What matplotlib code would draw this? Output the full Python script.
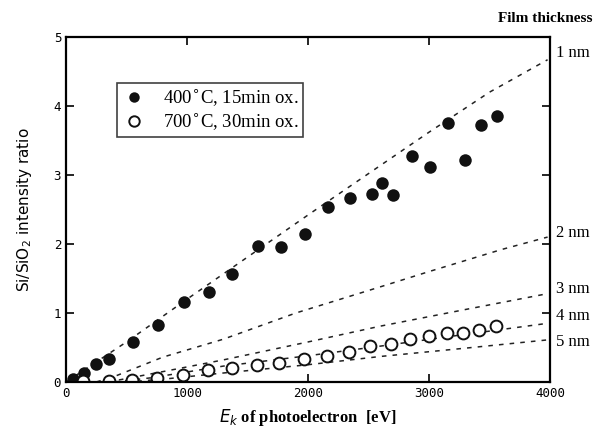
import matplotlib
matplotlib.use("Agg")
import matplotlib.pyplot as plt
import matplotlib.transforms as mtransforms

# measured ratios, 400 C / 15 min oxide
E_400 = [55, 149, 248, 355, 551, 758, 978, 1182, 1375, 1584, 1774, 1975,
         2163, 2347, 2526, 2609, 2700, 2857, 3008, 3160, 3298, 3430, 3562]
R_400 = [0.05, 0.13, 0.26, 0.33, 0.575, 0.82, 1.155, 1.30, 1.56, 1.975, 1.95,
         2.145, 2.54, 2.66, 2.72, 2.88, 2.71, 3.27, 3.12, 3.76, 3.21, 3.73, 3.855]

# measured ratios, 700 C / 30 min oxide
E_700 = [143, 355, 543, 750, 970, 1171, 1369, 1576, 1763, 1967, 2154, 2339,
         2512, 2686, 2843, 3003, 3146, 3284, 3416, 3554]
R_700 = [0.015, 0.015, 0.03, 0.06, 0.10, 0.17, 0.20, 0.24, 0.27, 0.34, 0.38,
         0.44, 0.52, 0.55, 0.62, 0.66, 0.705, 0.715, 0.76, 0.815]

# calculated curves for each film thickness
thick_labels = ["1 nm", "2 nm", "3 nm", "4 nm", "5 nm"]
thick_label_y = [4.77, 2.16, 1.35, 0.96, 0.58]
curve_E = [
    [0, 500, 1000, 1500, 2000, 2500, 3000, 3500, 3980],
    [250, 400, 800, 1300, 1900, 2600, 3000, 3600, 3980],
    [350, 500, 800, 1300, 2000, 2600, 3300, 3980],
    [400, 700, 1300, 2000, 2600, 3300, 3980],
    [500, 800, 1300, 2000, 2600, 3300, 3980],
]
curve_R = [
    [0, 0.58, 1.2, 1.81, 2.42, 3.02, 3.62, 4.2, 4.67],
    [0, 0.08, 0.36, 0.62, 1.0, 1.38, 1.6, 1.92, 2.1],
    [0, 0.05, 0.15, 0.32, 0.58, 0.81, 1.05, 1.28],
    [0, 0.06, 0.23, 0.38, 0.52, 0.69, 0.85],
    [0, 0.04, 0.13, 0.25, 0.37, 0.49, 0.61],
]

fig = plt.figure(figsize=(6.08, 4.36), dpi=100)
ax = fig.add_axes([0.1086, 0.1239, 0.796, 0.7913])

for xs, ys in zip(curve_E, curve_R):
    ax.plot(xs, ys, color="#222222", lw=1.1, linestyle=(0, (3, 4)))

ax.plot(E_400, R_400, "o", color="#111111", markersize=9, markeredgewidth=0,
        label="400$^{\\circ}$C, 15min ox.")
ax.plot(E_700, R_700, "o", markerfacecolor="white", markeredgecolor="#111111",
        markersize=8.5, markeredgewidth=1.4, label="700$^{\\circ}$C, 30min ox.")

ax.set_xlim(0, 4000)
ax.set_ylim(0, 5)
ax.set_xticks([0, 1000, 2000, 3000, 4000])
ax.set_yticks([0, 1, 2, 3, 4, 5])
ax.tick_params(direction="in", length=6, width=1.2, top=True, right=True,
               labelsize=9)
for lab in ax.get_xticklabels() + ax.get_yticklabels():
    lab.set_family("DejaVu Sans Mono")
for s in ax.spines.values():
    s.set_linewidth(1.6)

ax.set_ylabel("Si/SiO$_2$ intensity ratio", family="DejaVu Sans", fontsize=11,
              labelpad=14)
ax.set_xlabel("$E_k$ of photoelectron  [eV]", family="Liberation Serif",
              fontweight="bold", fontsize=12, labelpad=5)

leg = ax.legend(loc="upper left", bbox_to_anchor=(0.105, 0.867),
                borderaxespad=0, frameon=True, fancybox=False,
                edgecolor="#111111", handletextpad=0.9, borderpad=0.25,
                labelspacing=0.15, handlelength=1.3,
                prop={"family": "Liberation Serif", "size": 13.5})
leg.get_frame().set_linewidth(1.2)
for h in leg.legend_handles:
    h.set_markersize(7.5)

trans = mtransforms.blended_transform_factory(ax.transAxes, ax.transData)
for lab, yv in zip(thick_labels, thick_label_y):
    ax.text(1.012, yv, lab, transform=trans, va="center", ha="left",
            family="Liberation Serif", fontsize=12)

fig.text(0.975, 0.958, "Film thickness", ha="right", va="center",
         family="Liberation Serif", fontweight="bold", fontsize=11)

fig.savefig("out.png", dpi=100)
